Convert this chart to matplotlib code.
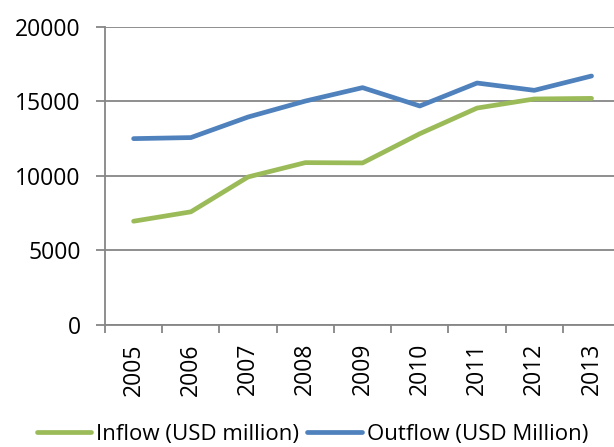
import matplotlib
matplotlib.use("Agg")
import matplotlib.pyplot as plt

years = ["2005", "2006", "2007", "2008", "2009", "2010", "2011", "2012", "2013"]
inflow = [6960, 7590, 9930, 10890, 10870, 12830, 14550, 15160, 15200]
outflow = [12500, 12570, 13950, 15020, 15920, 14690, 16230, 15740, 16700]
yticks = [0, 5000, 10000, 15000, 20000]

GREEN = "#9BBB59"
BLUE = "#4F81BD"
GRID = "#868686"
FONT = "Open Sans"

fig = plt.figure(figsize=(6.14, 4.47), dpi=100)
ax = fig.add_axes([0.171, 0.273, 0.839, 0.667])

x = list(range(len(years)))
ax.plot(x, inflow, color=GREEN, lw=3.4, solid_capstyle="round",
        solid_joinstyle="round", label="Inflow (USD million)")
ax.plot(x, outflow, color=BLUE, lw=3.4, solid_capstyle="round",
        solid_joinstyle="round", label="Outflow (USD Million)")

ax.set_xlim(-0.5, len(years) - 0.5)
ax.set_ylim(0, 20000)
ax.set_yticks(yticks)
ax.set_yticklabels([str(v) for v in yticks], family=FONT, fontsize=16.5)
ax.yaxis.grid(True, color=GRID, lw=1.3)
ax.set_axisbelow(True)

# category boundaries carry the tick marks, labels sit at category centres
ax.set_xticks([i - 0.5 for i in range(len(years) + 1)], minor=False)
ax.set_xticklabels([])
ax.set_xticks(x, minor=True)
ax.set_xticklabels(years, minor=True, rotation=90, fontsize=16.5, family=FONT)
ax.tick_params(axis="x", which="major", length=6, width=1.3, color=GRID,
               direction="out")
ax.tick_params(axis="x", which="minor", length=0, pad=13)
ax.tick_params(axis="y", length=6.5, width=1.3, color=GRID, direction="out",
               pad=11)

for side in ("top", "right"):
    ax.spines[side].set_visible(False)
for side in ("left", "bottom"):
    ax.spines[side].set_color(GRID)
    ax.spines[side].set_linewidth(1.3)

fig.legend(loc="center left", bbox_to_anchor=(0.060, 0.029), ncol=2,
           frameon=False, prop={"family": FONT, "size": 16},
           handlelength=2.45, handletextpad=0.22, columnspacing=0.36,
           borderaxespad=0, borderpad=0)

fig.savefig("out.png", dpi=100)
